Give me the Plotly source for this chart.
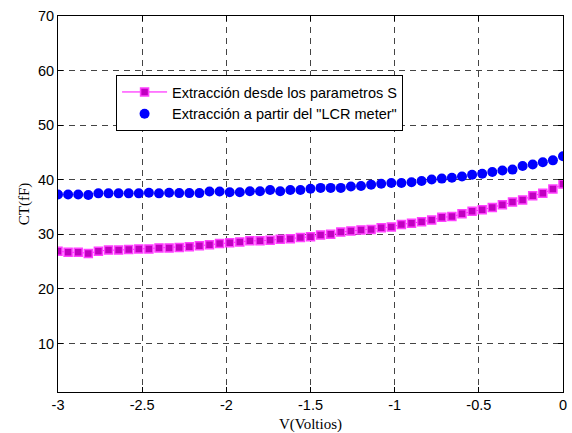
import numpy as np
import plotly.graph_objects as go

# Voltage sweep (V)
v = [round(-3 + 0.06 * i, 2) for i in range(51)]

# Extraction from S parameters (fF)
ct_s = [26.9, 26.7, 26.7, 26.5, 26.9, 27.1, 27.1, 27.2, 27.3, 27.3,
        27.5, 27.5, 27.6, 27.7, 27.9, 28.1, 28.3, 28.45, 28.6, 28.8,
        28.8, 28.9, 29.1, 29.2, 29.4, 29.55, 29.85, 30.0, 30.4, 30.6,
        30.8, 30.9, 31.2, 31.35, 31.8, 32.0, 32.3, 32.6, 33.1, 33.25,
        33.75, 34.2, 34.5, 34.9, 35.4, 35.9, 36.3, 37.05, 37.5, 38.3,
        39.2]

# Extraction from LCR meter (fF)
ct_lcr = [37.3, 37.3, 37.3, 37.2, 37.5, 37.5, 37.5, 37.5, 37.5, 37.6,
          37.5, 37.6, 37.55, 37.55, 37.55, 37.85, 37.85, 37.7, 37.7, 37.9,
          37.9, 38.1, 37.9, 38.1, 38.1, 38.35, 38.5, 38.5, 38.5, 38.75,
          38.85, 39.1, 39.25, 39.4, 39.4, 39.55, 39.75, 40.05, 40.2, 40.35,
          40.6, 40.9, 41.1, 41.4, 41.7, 41.85, 42.5, 42.8, 43.2, 43.55,
          44.3]

x_ticks = [-3, -2.5, -2, -1.5, -1, -0.5, 0]
x_tick_text = ["-3", "-2.5", "-2", "-1.5", "-1", "-0.5", "0"]
y_ticks = [10, 20, 30, 40, 50, 60, 70]

fig = go.Figure()
fig.add_trace(go.Scatter(
    x=v, y=ct_s, mode="lines+markers",
    name="Extracción desde los parametros S",
    line=dict(color="#ff00ff", width=1),
    marker=dict(symbol="square", size=8, color="#c000c0",
                line=dict(color="#ff40ff", width=1.5)),
))
fig.add_trace(go.Scatter(
    x=v, y=ct_lcr, mode="markers",
    name="Extracción a partir del \"LCR meter\"",
    marker=dict(symbol="circle", size=10, color="#0000ff",
                line=dict(color="#0000ff", width=0)),
))

tick_font = dict(family="Liberation Sans, Arial, sans-serif", size=14.5, color="black")
title_font = dict(family="Liberation Serif, Times New Roman, serif", size=15, color="black")

axis_common = dict(
    showline=True, linecolor="black", linewidth=1, mirror="ticks",
    ticks="inside", ticklen=5, tickcolor="black",
    showgrid=True, gridcolor="#444444", gridwidth=1, griddash="6px,5px",
    zeroline=False, automargin=False,
    tickfont=tick_font,
)

fig.update_xaxes(
    range=[-3, 0], tickvals=x_ticks, ticktext=x_tick_text,
    title=dict(text="V(Voltios)", standoff=6, font=title_font),
    **axis_common,
)
fig.update_yaxes(
    range=[1.1, 70], tickvals=y_ticks,
    title=dict(text="CT(fF)", standoff=4, font=title_font),
    **axis_common,
)

fig.update_layout(
    width=572, height=433,
    margin=dict(l=58, r=9, t=16, b=41),
    paper_bgcolor="white", plot_bgcolor="white",
    showlegend=True,
    legend=dict(
        x=0.115, y=0.843, xanchor="left", yanchor="top",
        bgcolor="white", bordercolor="black", borderwidth=1,
        font=dict(family="Liberation Sans, Arial, sans-serif", size=14.5, color="black"),
        tracegroupgap=0, itemwidth=45,
    ),
)

fig.write_html("out.html")
